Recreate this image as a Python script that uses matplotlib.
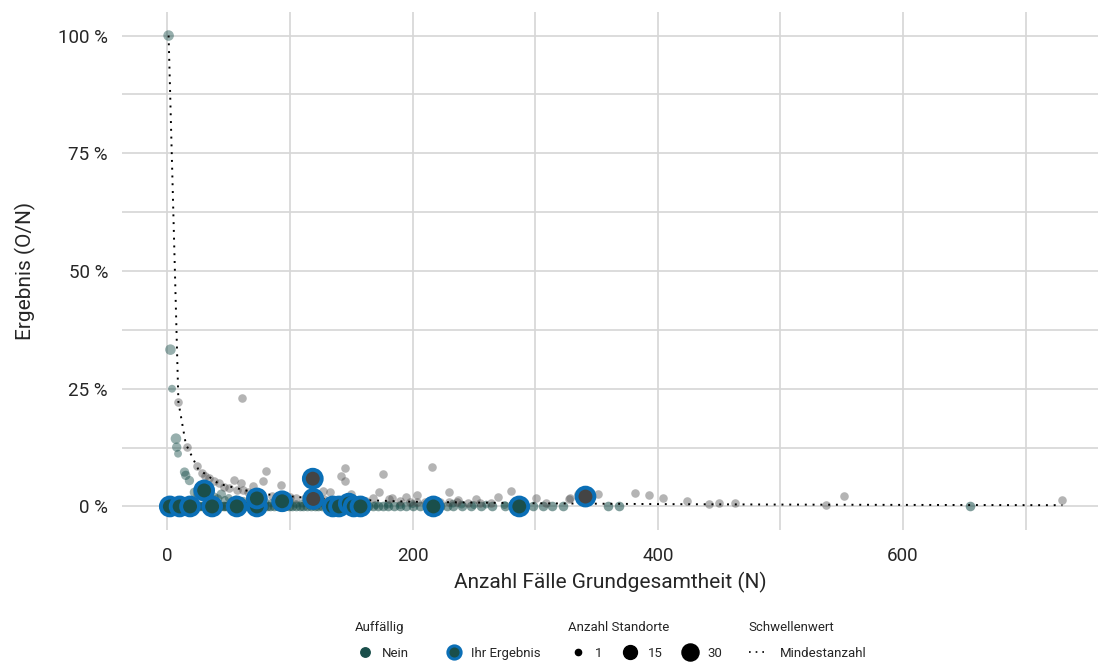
import numpy as np
import matplotlib
matplotlib.use('Agg')
import matplotlib.pyplot as plt
from matplotlib.lines import Line2D
from matplotlib.ticker import FuncFormatter, MultipleLocator

'''Daten (abgelesen)'''
# unauffaellige Standorte, Ergebnis 0 %
nein_n = [1, 2, 3, 4, 5, 6, 7, 8, 9, 10, 11, 12, 13, 14, 15, 17, 19, 21, 23, 25, 27, 29, 31, 33,
          35, 37, 39, 41, 43, 45, 47, 49, 51, 53, 55, 57, 59, 61, 63, 65, 67, 69, 71, 73, 75, 77,
          79, 81, 84, 87, 90, 93, 96, 99, 102, 105, 108, 111, 114, 117, 120, 123, 126, 129, 132,
          135, 138, 141, 144, 147, 150, 153, 156, 160, 164, 168, 172, 176, 180, 185, 190, 195, 200,
          206, 212, 218, 222, 228, 233, 240, 248, 256, 265, 275, 285, 298, 306, 314, 323, 359, 368, 655]
# unauffaellige Standorte mit Ergebnis > 0
nein2_n = [1, 2.5, 3.8, 7, 7.6, 8.7, 14, 15, 18, 22, 25, 28, 32, 35, 38, 41, 44, 47, 50, 53, 56, 59,
           62, 66, 70, 74, 80, 85, 90, 95, 100, 105, 110, 118, 125, 132, 140, 150, 160, 170, 180,
           190, 200, 212, 222, 233, 240, 250, 260, 275]
nein2_y = [1.0, 0.333, 0.25, 0.144, 0.126, 0.112, 0.073, 0.066, 0.055, 0.03, 0.025, 0.021, 0.022,
           0.018, 0.02, 0.016, 0.026, 0.014, 0.018, 0.012, 0.015, 0.01, 0.012, 0.009, 0.013, 0.008,
           0.01, 0.007, 0.008, 0.006, 0.01, 0.005, 0.006, 0.005, 0.007, 0.004, 0.005, 0.004, 0.006,
           0.003, 0.004, 0.003, 0.005, 0.003, 0.006, 0.006, 0.004, 0.003, 0.004, 0.003]
nein2_s = [3, 3, 1, 3, 2, 1, 2, 2, 2, 2, 2, 2, 2, 2, 2, 2, 2, 1, 1, 1, 1, 1, 1, 1, 1, 1, 1, 1, 1, 1,
           1, 1, 1, 1, 1, 1, 1, 1, 1, 1, 1, 1, 1, 1, 1, 1, 1, 1, 1, 1]

# Standorte oberhalb Mindestanzahl (grau)
grau_n = [9, 15.8, 24, 28, 31, 34, 38, 42, 46.5, 50, 54, 57, 60, 60.6, 62, 66, 69.6, 74, 78, 80.5,
          85, 93, 95, 100, 105, 112, 118, 127, 128, 133, 136, 141.8, 144.5, 145, 150, 155, 162,
          167.6, 172.5, 175.8, 181, 183, 190, 195, 198, 204, 204, 210, 216, 222, 229.6, 230, 236,
          237, 245, 252, 255, 264, 269.6, 280.6, 290, 301, 309, 327.6, 328, 335, 351, 381, 393,
          404, 424, 442, 450, 463, 537, 552, 729.5]
grau_y = [0.222, 0.126, 0.085, 0.07, 0.064, 0.06, 0.055, 0.05, 0.042, 0.04, 0.057, 0.036, 0.049,
          0.23, 0.034, 0.031, 0.043, 0.028, 0.053, 0.075, 0.022, 0.045, 0.02, 0.021, 0.018, 0.017,
          0.016, 0.033, 0.015, 0.03, 0.014, 0.064, 0.055, 0.082, 0.027, 0.012, 0.012, 0.018, 0.03,
          0.068, 0.016, 0.018, 0.011, 0.021, 0.01, 0.009, 0.025, 0.01, 0.084, 0.009, 0.03, 0.009,
          0.009, 0.013, 0.008, 0.016, 0.008, 0.008, 0.02, 0.033, 0.007, 0.018, 0.007, 0.016, 0.018,
          0.027, 0.027, 0.029, 0.025, 0.018, 0.011, 0.006, 0.007, 0.007, 0.004, 0.022, 0.014]

# Ihr Ergebnis
ihr_n = [2, 10, 18.5, 30, 36.5, 56.6, 73, 73, 93.6, 118.6, 119, 135, 140, 148, 152, 157.5, 217, 287, 341]
ihr_y = [0, 0, 0, 0.034, 0, 0, 0, 0.017, 0.011, 0.059, 0.016, 0, 0, 0.006, 0, 0, 0, 0, 0.021]
ihr_ueber = [0, 0, 0, 0, 0, 0, 0, 0, 0, 1, 1, 0, 0, 0, 0, 0, 0, 0, 1]

# Schwellenwert (Mindestanzahl)
schwelle_n = [1, 9, 15, 25, 42, 75, 120, 200, 300, 400, 500, 600, 730]
schwelle_y = [1.0, 0.222, 0.133, 0.08, 0.048, 0.027, 0.017, 0.01, 0.0067, 0.005, 0.004, 0.0033, 0.0027]

teal = '#1a4f4b'
blau = '#0b6fb6'
grau = '#444444'
txt = '#262626'

plt.rcParams['font.family'] = ['Roboto', 'DejaVu Sans']

fig = plt.figure(figsize=(10.98, 6.62), dpi=100)
ax = fig.add_axes([122 / 1098, 1 - 530 / 662, 976 / 1098, 518 / 662])

sz = {1: 32, 2: 45, 3: 58}
ax.scatter(nein_n, np.zeros(len(nein_n)), s=48, color=teal, alpha=0.55, lw=0, zorder=3)
ax.scatter(nein2_n, nein2_y, s=[sz[k] for k in nein2_s], color=teal, alpha=0.45, lw=0, zorder=3)
ax.scatter(grau_n, grau_y, s=38, color=grau, alpha=0.4, lw=0, zorder=3)
ax.plot(schwelle_n, schwelle_y, color='black', lw=1.4, ls=(0, (1, 3)), zorder=4)

fill = [grau if u else teal for u in ihr_ueber]
ax.scatter(ihr_n, ihr_y, s=165, c=fill, edgecolors=blau, linewidths=2.8, zorder=5)

ax.set_xlim(-37, 759)
ax.set_ylim(-0.05, 1.05)
ax.xaxis.set_major_locator(MultipleLocator(200))
ax.xaxis.set_minor_locator(MultipleLocator(100))
ax.yaxis.set_major_locator(MultipleLocator(0.25))
ax.yaxis.set_minor_locator(MultipleLocator(0.125))
ax.yaxis.set_major_formatter(FuncFormatter(lambda v, p: '%d %%' % round(v * 100)))
ax.grid(True, which='both', color='#d6d6d6', lw=1.2, zorder=0)
ax.set_axisbelow(True)
for s in ax.spines.values():
    s.set_visible(False)
ax.tick_params(which='both', length=0, labelsize=13.5, labelcolor=txt)
ax.tick_params(axis='x', pad=12)
ax.tick_params(axis='y', pad=10)
ax.set_xlabel('Anzahl Fälle Grundgesamtheit (N)', fontsize=15, color=txt, labelpad=5)
ax.set_ylabel('Ergebnis (O/N)', fontsize=15, color=txt, labelpad=16)

'''Legenden'''
fs = 9.5
lkw = dict(frameon=False, fontsize=fs, title_fontsize=fs, borderpad=0, labelspacing=1.0,
           alignment='left', labelcolor=txt, loc='upper left')
y0 = 1 - 614 / 662
h1 = [Line2D([], [], ls='', marker='o', ms=6.8, mfc=teal, mec=teal),
      Line2D([], [], ls='', marker='o', ms=9.5, mfc=teal, mec=blau, mew=2.2)]
l1 = fig.legend(h1, ['Nein', 'Ihr Ergebnis'], title='Auffällig', ncol=2, handlelength=1.6,
                handletextpad=0.5, columnspacing=2.6, bbox_to_anchor=(348 / 1098, y0), **lkw)
h2 = [Line2D([], [], ls='', marker='o', ms=m, color='black') for m in (4.5, 10, 12.3)]
l2 = fig.legend(h2, ['1', '15', '30'], title='Anzahl Standorte', ncol=3, handlelength=1.6,
                handletextpad=0.5, columnspacing=1.3, bbox_to_anchor=(561 / 1098, y0), **lkw)
h3 = [Line2D([], [], color='black', lw=1.2, ls=(0, (1, 3)))]
l3 = fig.legend(h3, ['Mindestanzahl'], title='Schwellenwert', ncol=1, handlelength=1.2,
                handletextpad=1.2, bbox_to_anchor=(742 / 1098, y0), **lkw)
for l in (l1, l2, l3):
    l.get_title().set_color(txt)

fig.savefig('out.png', dpi=100)
